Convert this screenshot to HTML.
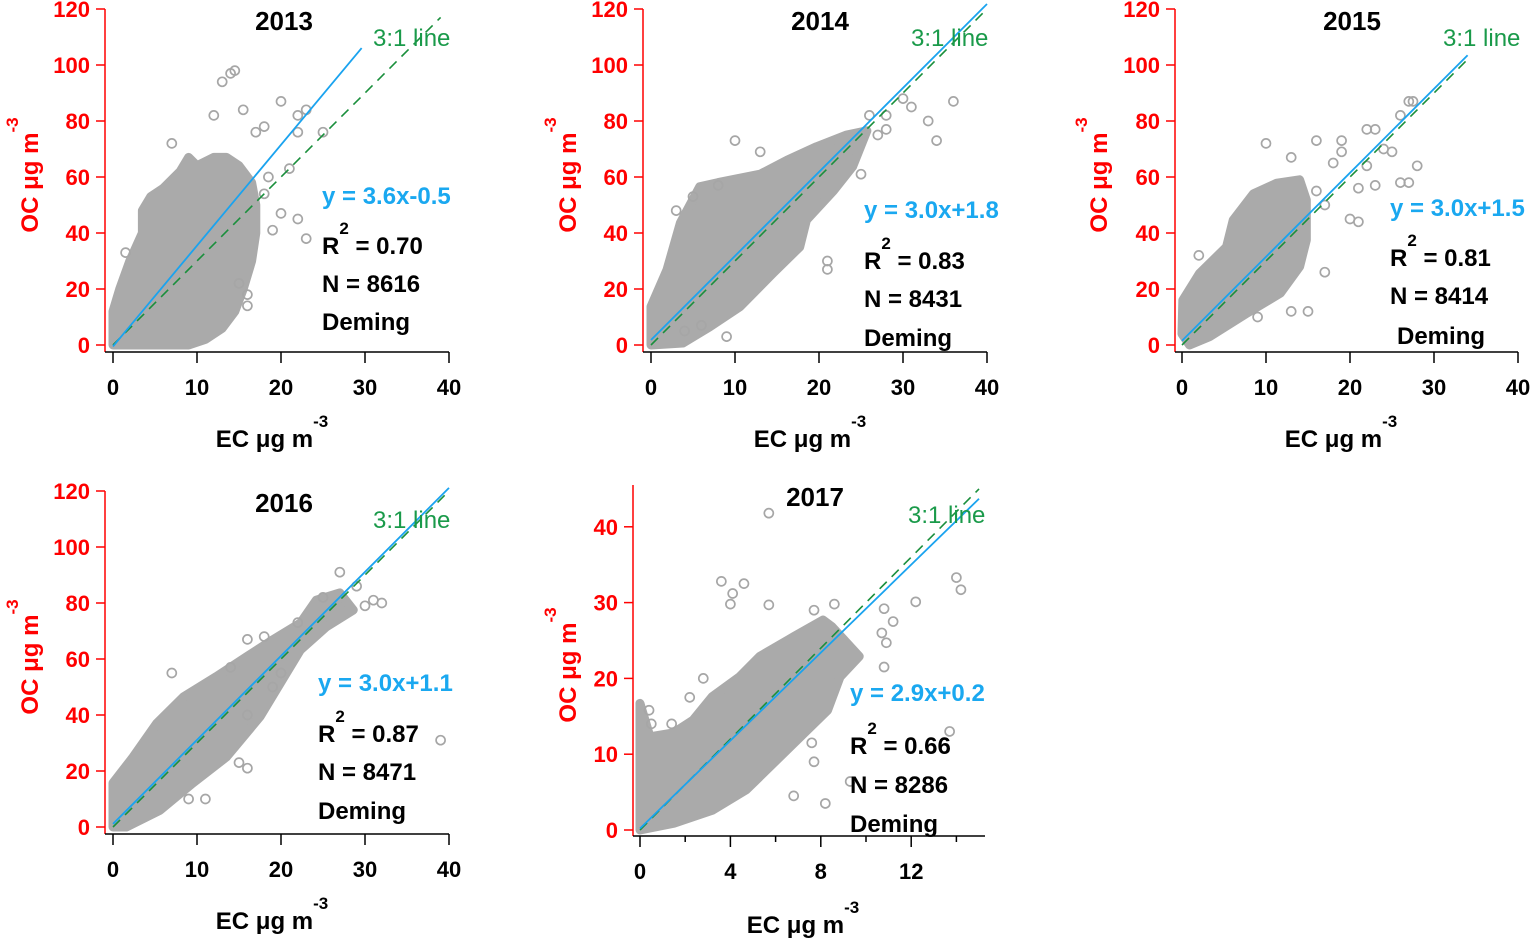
<!DOCTYPE html>
<html><head><meta charset="utf-8"><style>
body{margin:0;background:#fff;width:1536px;height:941px;overflow:hidden}
svg text{font-family:"Liberation Sans",Arial,sans-serif}
</style></head><body>
<svg id="chart" width="1536" height="941" xmlns="http://www.w3.org/2000/svg"></svg>
<script>
// ---- data (data units: x = EC, y = OC) ----
const years = ["2013","2014","2015","2016","2017"];
const slopes = [3.6, 3.0, 3.0, 3.0, 2.9];
const intercepts = [-0.5, 1.8, 1.5, 1.1, 0.2];
const r2Labels = ["0.70","0.83","0.81","0.87","0.66"];
const nLabels = ["8616","8431","8414","8471","8286"];
const fitEndX = [29.6, 40, 34, 40, 15];
const ratioEndX = [39, 40, 34, 40, 15];
const yTicks120 = [0,20,40,60,80,100,120];
const xTicks40 = [0,10,20,30,40];
const yTicks17 = [0,10,20,30,40];
const xTicks17 = [0,4,8,12];
const cloud2013 = [[0,0],[9,0],[11,2],[13,6],[14.5,12],[15.5,20],[16.5,30],[17,40],[17,50],[16.5,58],[15,64],[13.5,67],[12,67],[10,64],[9,67],[8,62],[6,56],[4.5,53],[3.5,48],[3.5,40],[2,30],[0.8,20],[0,12]];
const out2013 = [[14.5,98],[14,97],[13,94],[15.5,84],[12,82],[7,72],[17,76],[18,78],[20,87],[22,82],[23,84],[22,76],[25,76],[22,45],[23,38],[16,14],[16,18],[15,22],[1.5,33],[19,41],[20,47],[21,63],[18.5,60],[18,54]];
const cloud2014 = [[0,0],[3.8,0.7],[7,6.5],[10.6,13.7],[14.5,25.6],[17.7,35],[18.5,44.6],[21.7,55],[24,63.7],[25.7,76.5],[23.3,75],[19.7,70.8],[16.2,66],[13,61],[8,58],[5.8,56.5],[3.5,43.6],[1.9,26.8],[0,13.7]];
const out2014 = [[10,73],[13,69],[26,82],[28,82],[30,88],[31,85],[36,87],[33,80],[34,73],[27,75],[28,77],[21,30],[21,27],[25,61],[3,48],[5,53],[8,57],[6,7],[4,5],[9,3]];
const cloud2015 = [[0.9,0],[3.3,3],[7.7,11.3],[11.7,18.5],[14,28],[14.8,37.5],[14.8,51.8],[14,59],[11.3,57.8],[8.5,54],[6.1,44.6],[5.3,35],[2.1,25.6],[0.1,16],[0,4]];
const out2015 = [[10,72],[13,67],[16,73],[19,73],[22,77],[23,77],[26,82],[27,87],[27.5,87],[24,70],[25,69],[28,64],[26,58],[27,58],[22,64],[23,57],[21,56],[18,65],[19,69],[20,45],[15,12],[13,12],[17,26],[2,32],[9,10],[21,44],[16,55],[17,50]];
const cloud2016 = [[0,0],[1.6,0],[5.6,6],[9.5,15.7],[13.5,25],[17.5,39.4],[22.3,63.2],[25.4,71.5],[28.6,77.5],[27,83.6],[24.2,81],[22.3,72.8],[19,66.8],[15.9,60.8],[12.3,53.7],[8.4,46.5],[5.2,37],[2.4,25],[0,15.7]];
const out2016 = [[27,91],[29,86],[31,81],[32,80],[30,79],[25,82],[22,73],[9,10],[11,10],[15,23],[16,21],[39,31],[7,55],[18,68],[16,67],[14,57],[20,55],[19,50],[16,40]];
const cloud2017 = [[0,0],[1.5,0.9],[3.2,2.6],[4.7,5.3],[5.9,8.8],[7.1,12.3],[8.3,15.8],[8.85,20.2],[9.7,22.9],[8.5,26.8],[8.1,27.7],[6.8,25.5],[5.3,22.9],[4.4,20.2],[3.2,17.6],[2.35,14.5],[1.47,12.8],[0.44,12.3],[0,16.7]];
const out2017 = [[5.7,41.8],[3.6,32.8],[4.6,32.5],[4.1,31.2],[4,29.8],[5.7,29.7],[7.7,29],[8.6,29.8],[14,33.3],[14.2,31.7],[12.2,30.1],[10.8,29.2],[11.2,27.5],[10.7,26],[10.9,24.7],[10.8,21.5],[13.7,13],[7.6,11.5],[7.7,9],[9.3,6.4],[6.8,4.5],[8.2,3.5],[0.4,15.8],[0.5,14],[1.4,14],[2.2,17.5],[2.8,20]];
const clouds = [cloud2013, cloud2014, cloud2015, cloud2016, cloud2017];
const outliers = [out2013, out2014, out2015, out2016, out2017];

// ---- layout (pixels) ----
const panels = [
 {ax:105,x0:113,xs:8.4,y0:345,ys:2.8,xa:352,top:9,right:449,xt:xTicks40,yt:yTicks120,minor:[],tx:284,ty:30,lx:373,ly:46,ex:322,ey:204,ry:254,ny:292,dx:322,dy:330,xlx:272,xly:447,ylx:38,yly:175},
 {ax:643,x0:651,xs:8.4,y0:345,ys:2.8,xa:352,top:9,right:987,xt:xTicks40,yt:yTicks120,minor:[],tx:820,ty:30,lx:911,ly:46,ex:864,ey:218,ry:269,ny:307,dx:864,dy:346,xlx:810,xly:447,ylx:576,yly:175},
 {ax:1175,x0:1182,xs:8.4,y0:345,ys:2.8,xa:352,top:9,right:1518,xt:xTicks40,yt:yTicks120,minor:[],tx:1352,ty:30,lx:1443,ly:46,ex:1390,ey:216,ry:266,ny:304,dx:1397,dy:344,xlx:1341,xly:447,ylx:1107,yly:175},
 {ax:105,x0:113,xs:8.4,y0:827,ys:2.8,xa:834,top:491,right:449,xt:xTicks40,yt:yTicks120,minor:[],tx:284,ty:512,lx:373,ly:528,ex:318,ey:691,ry:742,ny:780,dx:318,dy:819,xlx:272,xly:929,ylx:38,yly:657},
 {ax:633,x0:640,xs:22.6,y0:830,ys:7.58,xa:836,top:485,right:985,xt:xTicks17,yt:yTicks17,minor:[2,6,10,14],tx:815,ty:506,lx:908,ly:523,ex:850,ey:701,ry:754,ny:793,dx:850,dy:832,xlx:803,xly:933,ylx:576,yly:665}
];
const svg = document.getElementById('chart');
const NS = 'http://www.w3.org/2000/svg';
function mk(tag, attrs, parent){const e=document.createElementNS(NS,tag);for(const k in attrs)e.setAttribute(k,attrs[k]);(parent||svg).appendChild(e);return e;}

panels.forEach((p,i)=>{
  const X = v=>p.x0+v*p.xs, Y = v=>p.y0-v*p.ys;
  const g = mk('g',{});
  
  
  const cl = mk('polygon',{points:clouds[i].map(d=>X(d[0])+','+Y(d[1])).join(' '),fill:'#aaaaaa',stroke:'#aaaaaa','stroke-width':9,'stroke-linejoin':'round'},g);
  
  
  outliers[i].forEach(d=>{
    const c = mk('circle',{cx:X(d[0]),cy:Y(d[1]),r:4.5,fill:'none',stroke:'#a6a6a6','stroke-width':1.7},g);
    
    
  });
  const rl = mk('line',{x1:X(0),y1:Y(0),x2:X(ratioEndX[i]),y2:Y(3*ratioEndX[i]),stroke:'#1a8f3c','stroke-width':1.6,'stroke-dasharray':'10,7'},g);
  
  
  const fl = mk('line',{x1:X(0),y1:Y(intercepts[i]),x2:X(fitEndX[i]),y2:Y(slopes[i]*fitEndX[i]+intercepts[i]),stroke:'#1aa3ef','stroke-width':1.8},g);
  
  
  const ya = mk('line',{x1:p.ax,y1:p.top,x2:p.ax,y2:p.xa,stroke:'#ff0000','stroke-width':1.5},g);
  
  
  const xa = mk('line',{x1:p.ax,y1:p.xa,x2:p.right,y2:p.xa,stroke:'#000','stroke-width':1.5},g);
  
  
  p.yt.forEach(v=>{
    mk('line',{x1:p.ax-9,y1:Y(v),x2:p.ax,y2:Y(v),stroke:'#ff0000','stroke-width':1.5},g);
    const t = mk('text',{x:p.ax-15,y:Y(v)+8,'text-anchor':'end','font-size':22,'font-weight':'bold',fill:'#ff0000'},g);
    t.textContent=v;
    
    
  });
  p.xt.forEach(v=>{
    mk('line',{x1:X(v),y1:p.xa,x2:X(v),y2:p.xa+11,stroke:'#000','stroke-width':1.5},g);
    const t = mk('text',{x:X(v),y:p.xa+43,'text-anchor':'middle','font-size':22,'font-weight':'bold',fill:'#000'},g);
    t.textContent=v;
    
    
  });
  p.minor.forEach(v=>{mk('line',{x1:X(v),y1:p.xa,x2:X(v),y2:p.xa+6,stroke:'#000','stroke-width':1.5},g);});
  const tt = mk('text',{x:p.tx,y:p.ty,'text-anchor':'middle','font-size':26,'font-weight':'bold'},g);
  tt.textContent=years[i];
  
  
  const lt = mk('text',{x:p.lx,y:p.ly,'font-size':24,fill:'#1a9a4a'},g);
  lt.textContent='3:1 line';
  
  
  const et = mk('text',{x:p.ex,y:p.ey,'font-size':24,'font-weight':'bold',fill:'#1aa8f0'},g);
  et.textContent='y = '+slopes[i].toFixed(1)+'x'+(intercepts[i]<0?'-':'+')+Math.abs(intercepts[i]).toFixed(1);
  
  
  const rt = mk('text',{x:p.ex,y:p.ry,'font-size':24,'font-weight':'bold'},g);
  rt.innerHTML='R<tspan dy="-20" font-size="17">2</tspan><tspan dy="20"> = '+r2Labels[i]+'</tspan>';
  
  
  const nt = mk('text',{x:p.ex,y:p.ny,'font-size':24,'font-weight':'bold'},g);
  nt.textContent='N = '+nLabels[i];
  
  
  const dt = mk('text',{x:p.dx,y:p.dy,'font-size':24,'font-weight':'bold'},g);
  dt.textContent='Deming';
  
  
  const xl = mk('text',{x:p.xlx,y:p.xly,'text-anchor':'middle','font-size':24,'font-weight':'bold'},g);
  xl.innerHTML='EC  μg m<tspan dy="-20" font-size="17">-3</tspan>';
  
  
  const yl = mk('text',{x:0,y:0,'text-anchor':'middle','font-size':24,'font-weight':'bold',fill:'#ff0000',transform:'translate('+p.ylx+','+p.yly+') rotate(-90)'},g);
  yl.innerHTML='OC  μg m<tspan dy="-20" font-size="17">-3</tspan>';
  
  
});
</script>
</body></html>
